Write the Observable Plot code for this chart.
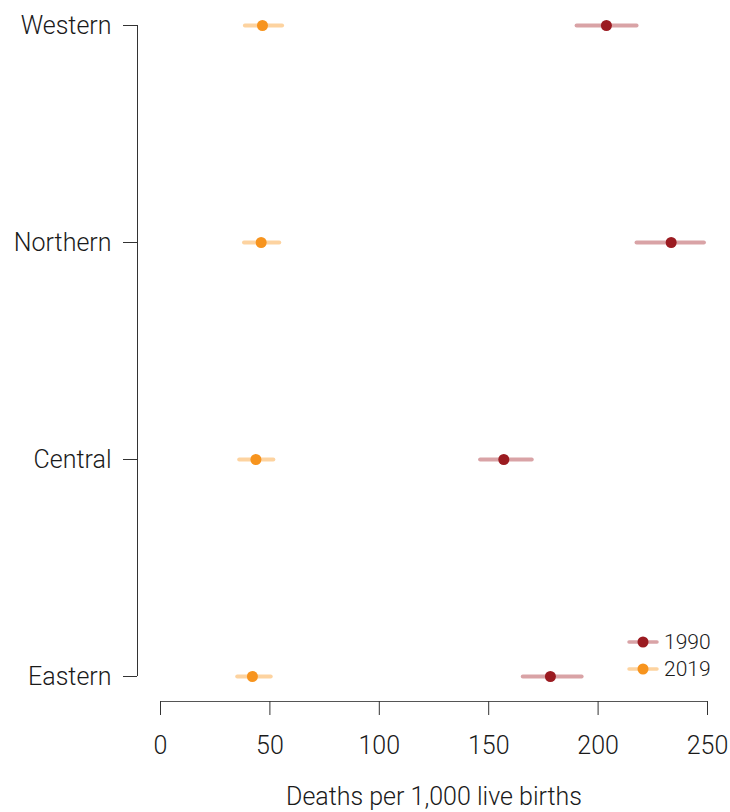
<!DOCTYPE html>
<html>
<head>
<meta charset="utf-8">
<script src="https://cdn.jsdelivr.net/npm/d3@7"></script>
<script src="https://cdn.jsdelivr.net/npm/@observablehq/plot@0.6"></script>
<style>
  html, body { margin: 0; padding: 0; background: #fff; }
  #chart { position: relative; width: 730px; height: 812px; font-family: Roboto, "Liberation Sans", sans-serif; font-weight: 300; color: #1a1a1a; }
  #legend { position: absolute; left: 620px; top: 626px; }
</style>
</head>
<body>
<div id="chart"></div>
<script>
// ---- data ----
const regions = ["Western", "Northern", "Central", "Eastern"];
const years = ["1990", "2019"];
const mid1990 = [203.8, 233.4, 156.9, 178.2];
const lo1990  = [190.4, 217.8, 146.3, 165.8];
const hi1990  = [217.8, 248.6, 169.9, 192.7];
const mid2019 = [46.6, 46.0, 43.6, 42.0];
const lo2019  = [38.8, 38.4, 36.2, 35.3];
const hi2019  = [55.8, 54.5, 51.8, 50.6];
const xTicks = [0, 50, 100, 150, 200, 250];
const xLabel = "Deaths per 1,000 live births";

// ---- styles ----
const dotColor  = {"1990": "#9b1b21", "2019": "#f7941e"};
const lineColor = {"1990": "#d9a3a6", "2019": "#fdd3a0"};

const rows = [];
regions.forEach((r, i) => {
  rows.push({region: r, year: "1990", mid: mid1990[i], lo: lo1990[i], hi: hi1990[i]});
  rows.push({region: r, year: "2019", mid: mid2019[i], lo: lo2019[i], hi: hi2019[i]});
});

const fontSize = 25;
const plot = Plot.plot({
  width: 730,
  height: 812,
  marginLeft: 160,
  marginRight: 23,
  marginTop: 24,
  marginBottom: 111,
  style: {fontFamily: "Roboto, 'Liberation Sans', sans-serif", fontWeight: 300, color: "#1a1a1a", background: "#fff", overflow: "visible"},
  x: {domain: [0, 250]},
  y: {type: "point", domain: regions, range: [24, 676], padding: 0},
  marks: [
    Plot.ruleY(rows, {y: "region", x1: "lo", x2: "hi", stroke: d => lineColor[d.year], strokeWidth: 4, strokeLinecap: "round"}),
    Plot.dot(rows, {x: "mid", y: "region", r: 5.5, fill: d => dotColor[d.year], stroke: null}),
    // y axis
    Plot.ruleX([0], {x: d => d, y1: () => regions[0], y2: () => regions[regions.length - 1], dx: -23, stroke: "#333", strokeWidth: 1}),
    Plot.axisY({dx: -23, tickSize: 14, tickPadding: 12, fontSize: fontSize, label: null, stroke: "#333"}),
    // x axis
    Plot.frame({anchor: "bottom", stroke: "#555"}),
    Plot.axisX({ticks: xTicks, tickSize: 14, tickPadding: 21, fontSize: fontSize, stroke: "#333",
      label: xLabel, labelAnchor: "center", labelArrow: "none", labelOffset: 103})
  ]
});

const chart = document.getElementById("chart");
chart.appendChild(plot);

// legend
const leg = d3.select(chart).append("svg")
  .attr("id", "legend").attr("width", 110).attr("height", 60)
  .style("overflow", "visible");
const g = leg.selectAll("g").data(years).join("g")
  .attr("transform", (d, i) => `translate(0,${16 + i * 27})`);
g.append("line").attr("x1", 9).attr("x2", 37).attr("y1", 0).attr("y2", 0)
  .attr("stroke", d => lineColor[d]).attr("stroke-width", 3.5).attr("stroke-linecap", "round");
g.append("circle").attr("cx", 23).attr("cy", 0).attr("r", 5.5).attr("fill", d => dotColor[d]);
g.append("text").attr("x", 44).attr("y", 0).attr("dy", "0.35em")
  .attr("font-size", 21).attr("font-family", "Roboto, 'Liberation Sans', sans-serif").attr("font-weight", 300)
  .attr("fill", "#1a1a1a").text(d => d);
</script>
</body>
</html>
